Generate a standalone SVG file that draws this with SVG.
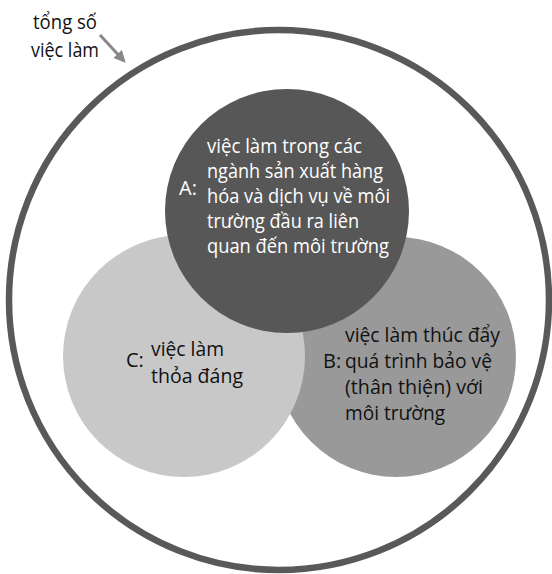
<svg xmlns="http://www.w3.org/2000/svg" width="552" height="574" viewBox="0 0 552 574">
<style>
text{font-family:"Open Sans","Noto Sans","DejaVu Sans",sans-serif;font-size:20px}
.w{fill:#ffffff}
.k{fill:#111111}
</style>
<defs>
<marker id="ah" viewBox="0 0 10 10" refX="8" refY="5" markerWidth="4" markerHeight="4" orient="auto">
<path d="M0,0 L10,5 L0,10 z" fill="#888888"/>
</marker>
</defs>
<rect width="552" height="574" fill="#ffffff"/>
<g id="total">
<circle cx="279" cy="300" r="270" fill="#ffffff" stroke="#595959" stroke-width="6.5"/>
<text class="k" x="33" y="29" textLength="64" lengthAdjust="spacingAndGlyphs">tổng số</text>
<text class="k" x="31" y="57" textLength="68" lengthAdjust="spacingAndGlyphs">việc làm</text>
</g>
<g id="B">
<circle cx="396" cy="357" r="120" fill="#999999"/>
<text class="k" x="323" y="368">B:</text>
<text class="k" x="345" y="342" textLength="155" lengthAdjust="spacingAndGlyphs">việc làm thúc đẩy</text>
<text class="k" x="345" y="368" textLength="147" lengthAdjust="spacingAndGlyphs">quá trình bảo vệ</text>
<text class="k" x="345" y="394" textLength="138" lengthAdjust="spacingAndGlyphs">(thân thiện) với</text>
<text class="k" x="345" y="420" textLength="100" lengthAdjust="spacingAndGlyphs">môi trường</text>
</g>
<g id="C">
<circle cx="184" cy="356" r="121" fill="#c8c8c8"/>
<text class="k" x="126" y="367">C:</text>
<text class="k" x="151" y="356" textLength="73" lengthAdjust="spacingAndGlyphs">việc làm</text>
<text class="k" x="151" y="383" textLength="92" lengthAdjust="spacingAndGlyphs">thỏa đáng</text>
</g>
<g id="A">
<circle cx="287" cy="211" r="122" fill="#575757"/>
<text class="w" x="179" y="195">A:</text>
<text class="w" x="207" y="153" textLength="155" lengthAdjust="spacingAndGlyphs">việc làm trong các</text>
<text class="w" x="207" y="178" textLength="176" lengthAdjust="spacingAndGlyphs">ngành sản xuất hàng</text>
<text class="w" x="207" y="203" textLength="183" lengthAdjust="spacingAndGlyphs">hóa và dịch vụ về môi</text>
<text class="w" x="207" y="228" textLength="152" lengthAdjust="spacingAndGlyphs">trường đầu ra liên</text>
<text class="w" x="207" y="253" textLength="182" lengthAdjust="spacingAndGlyphs">quan đến môi trường</text>
</g>
<g id="connectors">
<line x1="100" y1="35" x2="124" y2="61" stroke="#888888" stroke-width="3" marker-end="url(#ah)"/>
</g>
</svg>
